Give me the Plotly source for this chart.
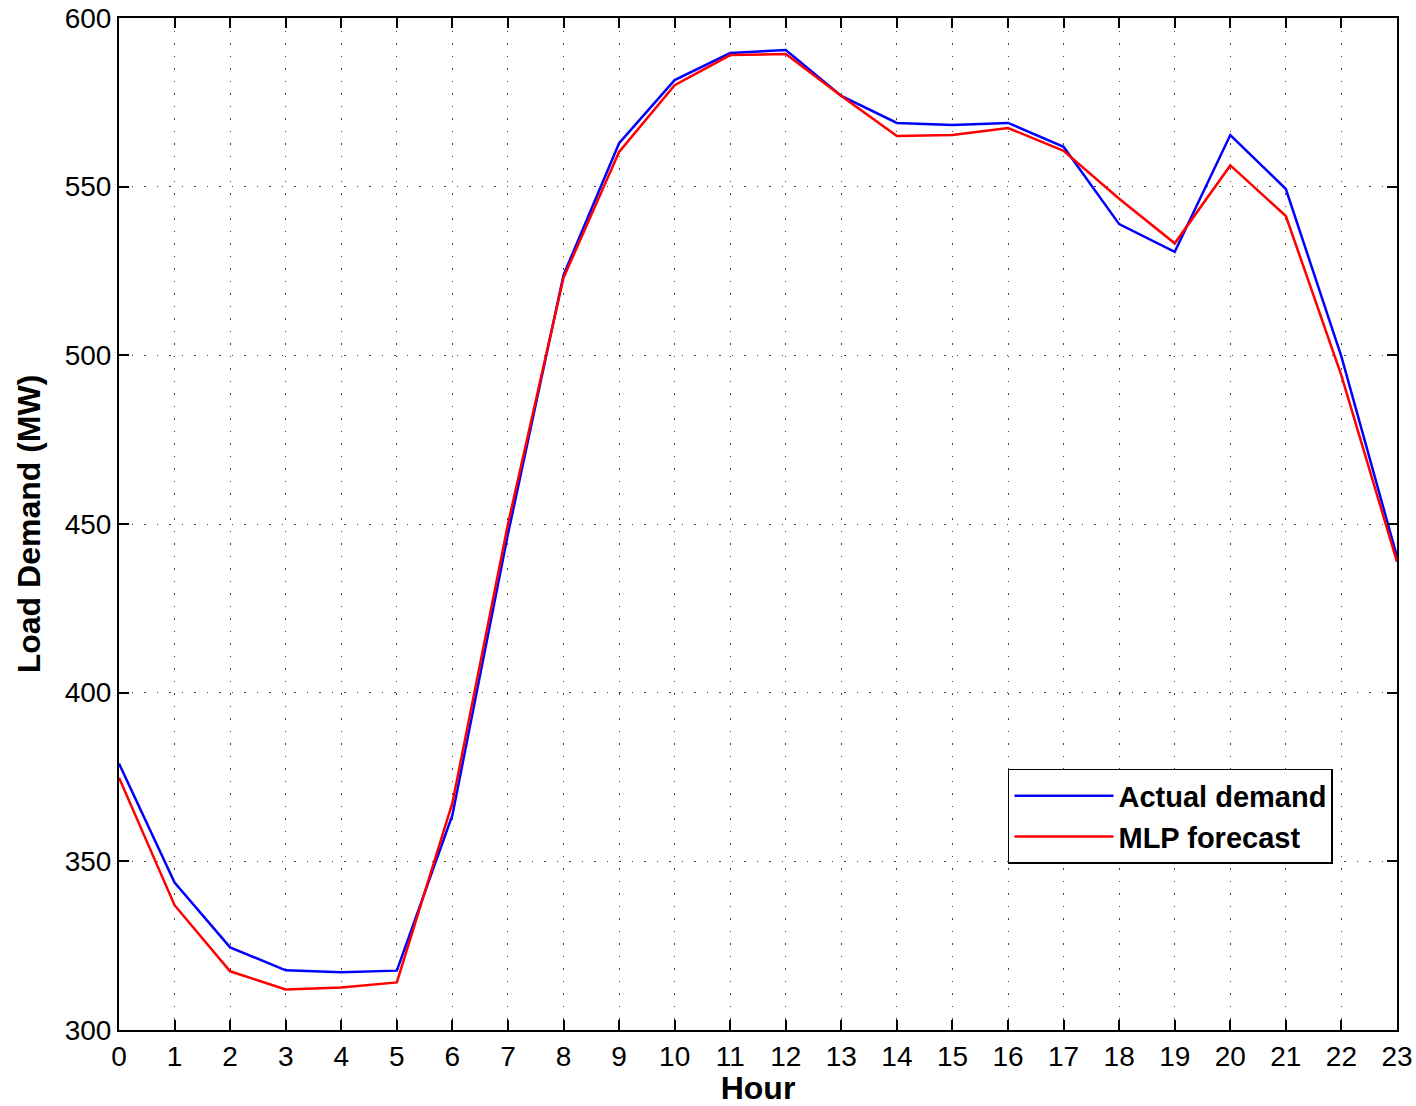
import plotly.graph_objects as go

hours = list(range(24))
actual_demand = [379.0, 343.7, 324.5, 317.7, 317.1, 317.6, 363.7, 447.0, 523.8, 562.9,
                 581.6, 589.6, 590.5, 576.9, 568.9, 568.3, 568.9, 561.8, 538.9, 530.7,
                 565.3, 549.3, 499.6, 440.3]
mlp_forecast = [374.8, 337.0, 317.4, 312.0, 312.6, 314.1, 367.3, 450.0, 523.0, 560.3,
                580.1, 589.0, 589.3, 576.9, 565.0, 565.3, 567.4, 560.6, 546.4, 533.2,
                556.3, 541.3, 494.0, 438.8]
x_ticks = list(range(24))
y_ticks = [300, 350, 400, 450, 500, 550, 600]

FONT = "Liberation Sans, Arial, Helvetica, sans-serif"

fig = go.Figure()
fig.add_trace(go.Scatter(x=hours, y=actual_demand, mode="lines", name="Actual demand",
                         line=dict(color="#0000ff", width=2.5)))
fig.add_trace(go.Scatter(x=hours, y=mlp_forecast, mode="lines", name="MLP forecast",
                         line=dict(color="#ff0000", width=2.5)))

axis_common = dict(
    showline=True, linecolor="black", linewidth=2, mirror="ticks",
    ticks="inside", ticklen=10, tickwidth=1.5, tickcolor="black",
    showgrid=True, gridcolor="#444444", gridwidth=1.2, griddash="1.5px,11px",
    zeroline=False, automargin=False, ticklabeloverflow="allow",
    tickfont=dict(family=FONT, size=28, color="black"),
)

fig.update_xaxes(range=[0, 23], tickvals=x_ticks, ticktext=[str(h) for h in x_ticks],
                 title=dict(text="<b>Hour</b>", font=dict(family=FONT, size=32, color="black"),
                            standoff=5),
                 **axis_common)
fig.update_yaxes(range=[300, 600], tickvals=y_ticks, ticktext=[str(v) for v in y_ticks],
                 title=dict(text="<b>Load Demand (MW)</b>", font=dict(family=FONT, size=32, color="black"),
                            standoff=14),
                 **axis_common)

fig.update_layout(
    width=1416, height=1106,
    margin=dict(l=119, r=19, t=18, b=76),
    plot_bgcolor="white", paper_bgcolor="white",
    font=dict(family=FONT, color="black"),
    showlegend=True,
    legend=dict(x=0.6956, y=0.258, xanchor="left", yanchor="top",
                bgcolor="white", bordercolor="black", borderwidth=1.5,
                font=dict(family=FONT, size=29, color="black", weight="bold"),
                itemwidth=99, tracegroupgap=0),
)

fig.write_html("out.html", config={"displayModeBar": False},
               post_script="document.body.style.margin='0';document.body.style.overflow='hidden';")
